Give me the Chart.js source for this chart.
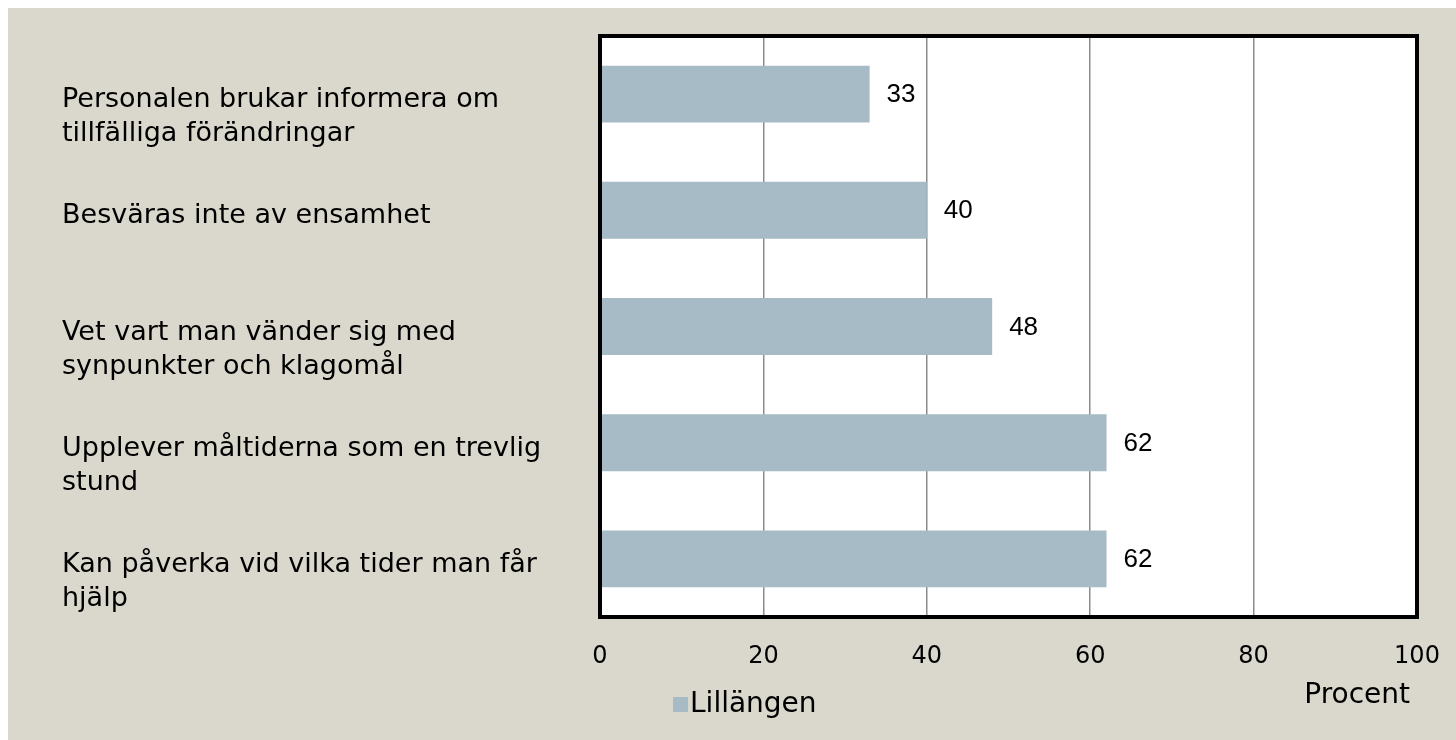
<!DOCTYPE html>
<html>
<head>
<meta charset="utf-8">
<script src="https://cdn.jsdelivr.net/npm/chart.js@4.4.1/dist/chart.umd.min.js"></script>
<style>
    body { margin: 0; background: #FFFFFF; }
    #panel { position: absolute; left: 8px; top: 8px; width: 1448px; height: 732px; background: #DAD8CC; }
</style>
</head>
<body>
<div id="panel"><canvas id="grafico" width="1448" height="732"></canvas></div>
<script>
const categorias = [
    ['Personalen brukar informera om', 'tillfälliga förändringar'],
    ['Besväras inte av ensamhet'],
    ['Vet vart man vänder sig med', 'synpunkter och klagomål'],
    ['Upplever måltiderna som en trevlig', 'stund'],
    ['Kan påverka vid vilka tider man får', 'hjälp']
];
const valores = [33, 40, 48, 62, 62];
const serie = 'Lillängen';
const eixoMin = 0;
const eixoMax = 100;
const eixoPasso = 20;
const eixoTitulo = 'Procent';

const fonte = '"DejaVu Sans", sans-serif';

const ctx = document.getElementById('grafico');

new Chart(ctx, {
    type: 'bar',
    data: {
        labels: categorias,
        datasets: [{
            label: serie,
            data: valores,
            backgroundColor: '#A7BBC6',
            borderWidth: 0,
            categoryPercentage: 1,
            barPercentage: 0.49
        }]
    },
    options: {
        indexAxis: 'y',
        responsive: false,
        animation: false,
        layout: {
            padding: { left: 592, top: 28, right: 39, bottom: 0 }
        },
        plugins: {
            legend: { display: false },
            tooltip: { enabled: false }
        },
        scales: {
            x: {
                min: eixoMin,
                max: eixoMax,
                ticks: {
                    stepSize: eixoPasso,
                    color: '#000000',
                    padding: 25,
                    font: { family: fonte, size: 24 }
                },
                grid: { color: '#8C8C8C', lineWidth: 1.5, drawTicks: false },
                border: { display: false },
                afterFit(scale) {
                    scale.height = 123;
                    scale.paddingLeft = 0;
                    scale.paddingRight = 0;
                }
            },
            y: { display: false }
        }
    },
    plugins: [{
        id: 'plotArea',
        beforeDraw(chart) {
            const { ctx, chartArea } = chart;
            ctx.save();
            ctx.fillStyle = '#FFFFFF';
            ctx.fillRect(chartArea.left, chartArea.top, chartArea.width, chartArea.height);
            ctx.restore();
        },
        afterDatasetsDraw(chart) {
            const { ctx, chartArea, scales } = chart;
            ctx.save();

            // valores ao lado das barras
            ctx.fillStyle = '#000000';
            ctx.font = '26px "Liberation Sans", Arial, sans-serif';
            ctx.textAlign = 'left';
            ctx.textBaseline = 'middle';
            valores.forEach((v, i) => {
                const x = scales.x.getPixelForValue(v);
                const y = scales.y.getPixelForValue(i);
                ctx.fillText(String(v), x + 17, y + 1);
            });

            // moldura preta
            ctx.strokeStyle = '#000000';
            ctx.lineWidth = 4;
            ctx.strokeRect(chartArea.left, chartArea.top, chartArea.width, chartArea.height);

            ctx.restore();
        },
        afterDraw(chart) {
            const { ctx, chartArea, scales } = chart;
            ctx.save();
            ctx.fillStyle = '#000000';
            ctx.textAlign = 'left';
            ctx.textBaseline = 'middle';
            ctx.font = '27px ' + fonte;

            // rótulos das categorias
            categorias.forEach((linhas, i) => {
                const y = scales.y.getPixelForValue(i);
                linhas.forEach((txt, j) => {
                    ctx.fillText(txt, 54, y + 6 + j * 34);
                });
            });

            // legenda
            ctx.font = '28px ' + fonte;
            ctx.fillStyle = '#A7BBC6';
            ctx.fillRect(665, 689, 15, 15);
            ctx.fillStyle = '#000000';
            ctx.fillText(serie, 682, 697);

            // título do eixo
            ctx.textAlign = 'right';
            ctx.fillText(eixoTitulo, chartArea.right - 7, 688);

            ctx.restore();
        }
    }]
});
</script>
</body>
</html>
